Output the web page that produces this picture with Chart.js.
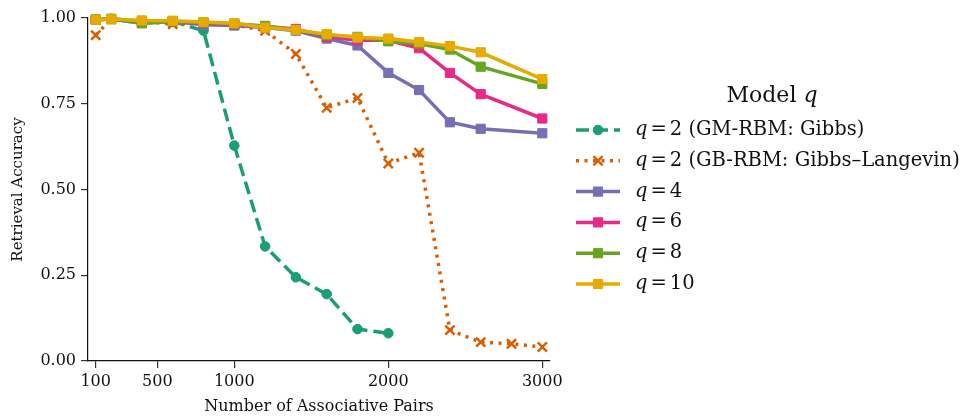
<!DOCTYPE html>
<html>
<head>
<meta charset="utf-8">
<script src="https://cdn.jsdelivr.net/npm/chart.js@4.4.0/dist/chart.umd.min.js"></script>
<style>
html, body { margin: 0; padding: 0; background: #fff; }
#wrap { width: 973px; height: 416px; position: relative; }
</style>
</head>
<body>
<div id="wrap"><canvas id="accChart"></canvas></div>
<script>
// x values (number of associative pairs)
const pairsGibbs = [100, 200, 400, 600, 800, 1000, 1200, 1400, 1600, 1800, 2000];
const pairsLangevin = [100, 200, 400, 600, 800, 1000, 1200, 1400, 1600, 1800, 2000, 2200, 2400, 2600, 2800, 3000];
const pairsQ = [100, 200, 400, 600, 800, 1000, 1200, 1400, 1600, 1800, 2000, 2200, 2400, 2600, 3000];

// retrieval accuracy per model
const accQ2Gibbs = [0.995, 0.998, 0.99, 0.99, 0.963, 0.628, 0.334, 0.244, 0.195, 0.093, 0.081];
const accQ2Langevin = [0.95, 0.997, 0.99, 0.982, 0.985, 0.98, 0.963, 0.895, 0.738, 0.767, 0.576, 0.607, 0.09, 0.055, 0.05, 0.041];
const accQ4 = [0.995, 0.997, 0.985, 0.99, 0.98, 0.978, 0.972, 0.963, 0.94, 0.92, 0.84, 0.79, 0.696, 0.677, 0.664];
const accQ6 = [0.995, 0.997, 0.99, 0.99, 0.985, 0.982, 0.975, 0.968, 0.945, 0.935, 0.935, 0.912, 0.84, 0.778, 0.707];
const accQ8 = [0.995, 0.997, 0.985, 0.99, 0.987, 0.983, 0.977, 0.965, 0.95, 0.945, 0.932, 0.925, 0.908, 0.858, 0.808];
const accQ10 = [0.995, 0.997, 0.993, 0.992, 0.988, 0.985, 0.972, 0.965, 0.953, 0.943, 0.94, 0.93, 0.918, 0.9, 0.822];

const xTicks = [100, 500, 1000, 2000, 3000];
const yTicks = [0, 0.25, 0.5, 0.75, 1.0];

const legendTitle = 'Model';
const legendQ = ['2', '2', '4', '6', '8', '10'];
const legendSuffix = [' (GM-RBM: Gibbs)', ' (GB-RBM: Gibbs\u2013Langevin)', '', '', '', ''];

const FONT = "'DejaVu Serif', 'Liberation Serif', serif";

function toPoints(xs, ys) {
    return xs.map((x, i) => ({ x: x, y: ys[i] }));
}

function lineSet(label, xs, ys, color, style, order, extra) {
    return Object.assign({
        label: label,
        data: toPoints(xs, ys),
        borderColor: color,
        backgroundColor: color,
        pointBackgroundColor: color,
        pointBorderColor: color,
        borderWidth: 3.5,
        pointStyle: style,
        pointRadius: style === 'rect' ? 6.5 : (style === 'crossRot' ? 6.5 : 4.8),
        pointBorderWidth: style === 'crossRot' ? 2.5 : 1,
        tension: 0,
        fill: false,
        clip: false,
        order: order
    }, extra || {});
}

const datasets = [
    lineSet('q=2 (GM-RBM: Gibbs)', pairsGibbs, accQ2Gibbs, '#1b9e77', 'circle', 6, { borderDash: [13, 6] }),
    lineSet('q=2 (GB-RBM: Gibbs-Langevin)', pairsLangevin, accQ2Langevin, '#d95f02', 'crossRot', 5, { borderDash: [3, 5.5] }),
    lineSet('q=4', pairsQ, accQ4, '#7570b3', 'rect', 4),
    lineSet('q=6', pairsQ, accQ6, '#e7298a', 'rect', 3),
    lineSet('q=8', pairsQ, accQ8, '#66a61e', 'rect', 2),
    lineSet('q=10', pairsQ, accQ10, '#e6ab02', 'rect', 1)
];

// legend drawn by hand so the q can be italic like the mathtext original
const mathLegend = {
    id: 'mathLegend',
    afterDraw(chart) {
        const ctx = chart.ctx;
        ctx.save();
        ctx.textBaseline = 'middle';
        ctx.fillStyle = '#111';

        // title
        ctx.font = '22px ' + FONT;
        const tW = ctx.measureText(legendTitle + ' ').width;
        ctx.font = 'italic 22px ' + FONT;
        const qW = ctx.measureText('q').width;
        let tx = 772 - (tW + qW) / 2;
        ctx.font = '22px ' + FONT;
        ctx.textAlign = 'left';
        ctx.fillText(legendTitle + ' ', tx, 96);
        ctx.font = 'italic 22px ' + FONT;
        ctx.fillText('q', tx + tW, 96);

        const x0 = 576, x1 = 620, textX = 635;
        chart.data.datasets.forEach((ds, i) => {
            const y = 130 + i * 30.8;
            ctx.save();
            ctx.strokeStyle = ds.borderColor;
            ctx.lineWidth = ds.borderWidth;
            ctx.setLineDash(ds.borderDash || []);
            ctx.beginPath();
            ctx.moveTo(x0, y);
            ctx.lineTo(x1, y);
            ctx.stroke();
            ctx.setLineDash([]);
            ctx.fillStyle = ds.pointBackgroundColor;
            ctx.strokeStyle = ds.pointBorderColor;
            ctx.lineWidth = ds.pointBorderWidth;
            Chart.helpers.drawPoint(ctx, {
                pointStyle: ds.pointStyle,
                radius: ds.pointRadius,
                rotation: 0,
                borderWidth: ds.pointBorderWidth
            }, (x0 + x1) / 2, y);
            ctx.restore();

            let x = textX;
            ctx.font = 'italic 19.5px ' + FONT;
            ctx.fillText('q', x, y);
            x += ctx.measureText('q').width + 3;
            ctx.font = '19.5px ' + FONT;
            ctx.fillText('=', x, y);
            x += ctx.measureText('=').width + 3;
            ctx.fillText(legendQ[i] + legendSuffix[i], x, y);
        });
        ctx.restore();
    }
};

const ctx = document.getElementById('accChart').getContext('2d');

new Chart(ctx, {
    type: 'line',
    data: { datasets: datasets },
    plugins: [mathLegend],
    options: {
        responsive: true,
        maintainAspectRatio: false,
        animation: false,
        layout: {
            padding: { left: 0, right: 423, top: 18, bottom: 0 }
        },
        plugins: {
            legend: { display: false },
            tooltip: { enabled: false }
        },
        scales: {
            x: {
                type: 'linear',
                min: 50,
                max: 3050,
                afterBuildTicks: function(scale) {
                    scale.ticks = xTicks.map(v => ({ value: v }));
                },
                afterFit: function(scale) {
                    scale.height = 55;
                },
                border: { display: true, color: '#111', width: 1.2 },
                grid: {
                    drawOnChartArea: false,
                    drawTicks: true,
                    tickLength: 7,
                    tickColor: '#333',
                    lineWidth: 1.2
                },
                ticks: {
                    color: '#111',
                    padding: 4,
                    maxRotation: 0,
                    font: { family: FONT, size: 16 },
                    callback: function(value) { return String(value); }
                },
                title: {
                    display: true,
                    text: 'Number of Associative Pairs',
                    color: '#111',
                    padding: { top: 5, bottom: 0 },
                    font: { family: FONT, size: 16 }
                }
            },
            y: {
                type: 'linear',
                min: 0,
                max: 1.0,
                afterBuildTicks: function(scale) {
                    scale.ticks = yTicks.map(v => ({ value: v }));
                },
                afterFit: function(scale) {
                    scale.width = 88;
                },
                border: { display: true, color: '#111', width: 1.2 },
                grid: {
                    drawOnChartArea: false,
                    drawTicks: true,
                    tickLength: 7,
                    tickColor: '#333',
                    lineWidth: 1.2
                },
                ticks: {
                    color: '#111',
                    padding: 5,
                    font: { family: FONT, size: 16 },
                    callback: function(value) { return value.toFixed(2); }
                },
                title: {
                    display: true,
                    text: 'Retrieval Accuracy',
                    color: '#111',
                    padding: { top: 9, bottom: 4 },
                    font: { family: FONT, size: 15 }
                }
            }
        }
    }
});
</script>
</body>
</html>
